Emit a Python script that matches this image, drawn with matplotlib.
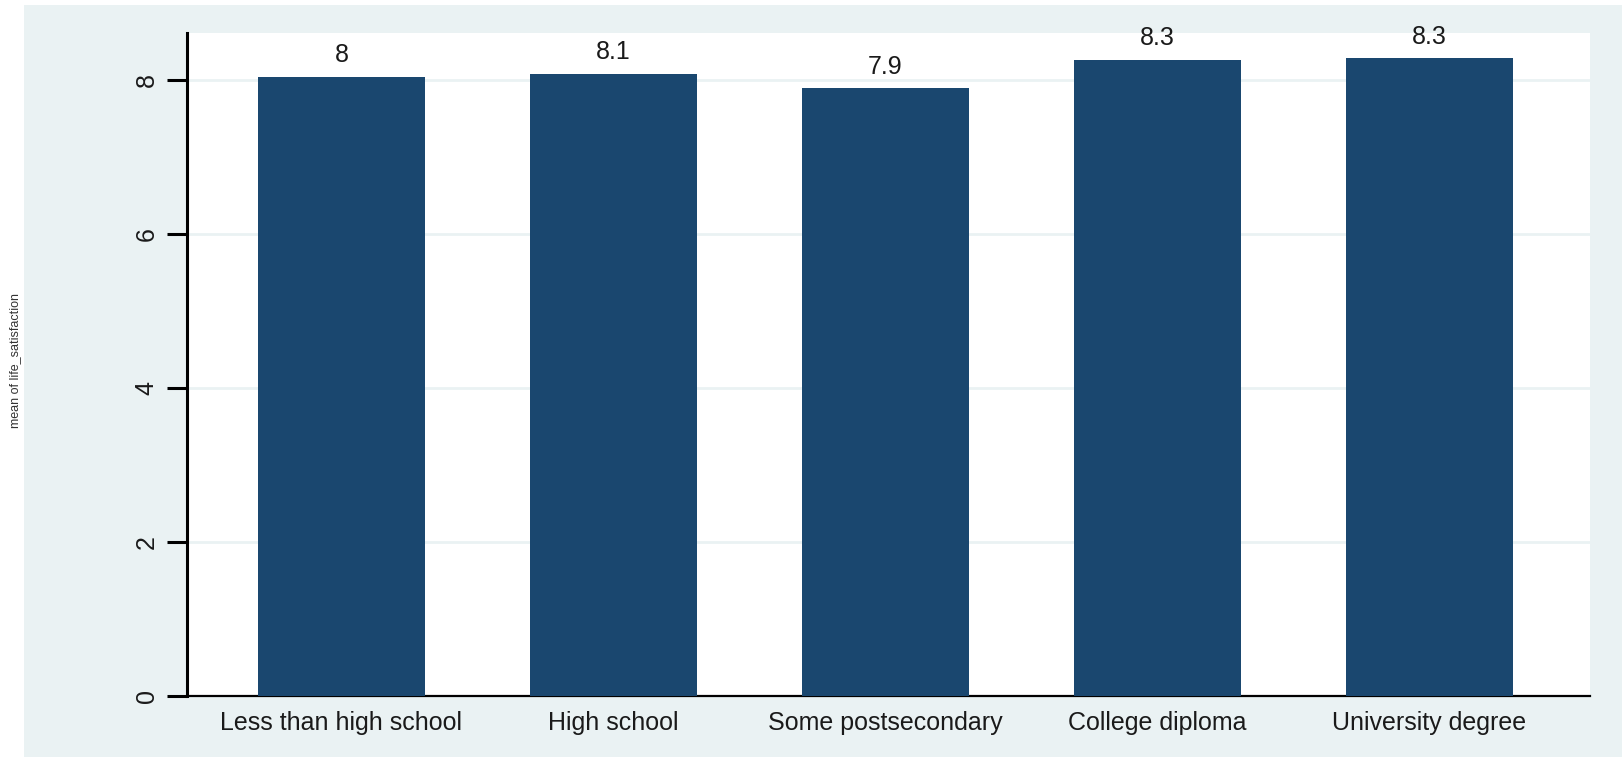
import matplotlib.pyplot as plt
from matplotlib.patches import Rectangle

# Mean value by education level
categories = ['Less than high school', 'High school', 'Some postsecondary',
              'College diploma', 'University degree']
means = [8.04, 8.08, 7.89, 8.26, 8.28]
value_labels = ['8', '8.1', '7.9', '8.3', '8.3']
yticks = [0, 2, 4, 6, 8]
ylabel = 'mean of life_satisfaction'

BAR = '#1A476F'
BG = '#EAF2F3'

plt.rcParams['font.family'] = ['Liberation Sans', 'DejaVu Sans']

W, H = 1622, 757
fig = plt.figure(figsize=(W / 100, H / 100), dpi=100, facecolor='white')

# Stata-style outer background panel
fig.patches.append(Rectangle((24 / W, 0), 1 - 24 / W, 1 - 5 / H,
                             transform=fig.transFigure, facecolor=BG,
                             edgecolor='none', zorder=-10))

ax = fig.add_axes([187 / W, 1 - 696 / H, (1590 - 187) / W, (696 - 33) / H])
ax.set_facecolor('white')

x = list(range(len(categories)))
ax.bar(x, means, width=0.614, color=BAR, zorder=3)

for xi, m, lab in zip(x, means, value_labels):
    ax.annotate(lab, (xi, m), xytext=(0, 7), textcoords='offset points',
                ha='center', va='bottom', fontsize=18, color='#1a1a1a')

ax.set_xlim(-0.568, 4.59)
ax.set_ylim(0, 8.61)

ax.set_yticks(yticks)
ax.set_yticklabels([str(t) for t in yticks], rotation=90, va='center')
for t in yticks[1:]:
    ax.axhline(t, color=BG, lw=2, zorder=1)

ax.set_xticks(x)
ax.set_xticklabels(categories, fontsize=18, color='#1a1a1a')
ax.tick_params(axis='x', length=0, pad=11)
ax.tick_params(axis='y', direction='out', length=14.4, width=2.2, pad=6,
               labelsize=18, labelcolor='#1a1a1a', color='black', left=True)

for s in ['top', 'right']:
    ax.spines[s].set_visible(False)
ax.spines['left'].set_linewidth(2.2)
ax.spines['bottom'].set_linewidth(1.6)

fig.text(15 / W, 1 - 361 / H, ylabel, rotation=90, ha='center', va='center',
         fontsize=9, color='#333333')

fig.savefig('out.png', dpi=100, facecolor=fig.get_facecolor())
